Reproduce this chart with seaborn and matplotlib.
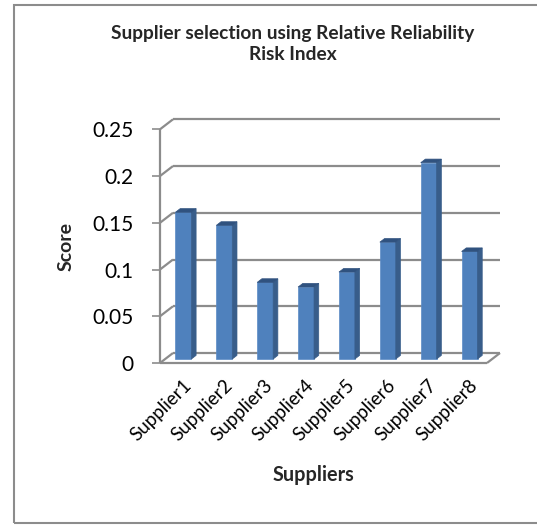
import matplotlib
matplotlib.use("Agg")
import matplotlib.pyplot as plt
import matplotlib.transforms as mtransforms
from matplotlib.patches import Polygon, Rectangle
import pandas as pd
import seaborn as sns

# Chart data
suppliers = ["Supplier1", "Supplier2", "Supplier3", "Supplier4",
             "Supplier5", "Supplier6", "Supplier7", "Supplier8"]
scores = [0.157, 0.143, 0.082, 0.077, 0.093, 0.125, 0.210, 0.115]
y_ticks = [0, 0.05, 0.1, 0.15, 0.2, 0.25]
y_tick_labels = ["0", "0.05", "0.1", "0.15", "0.2", "0.25"]
chart_title = "Supplier selection using Relative Reliability\nRisk Index"
x_title = "Suppliers"
y_title = "Score"

FRONT = "#4F81BD"
SIDE = "#385D8A"
TOP = "#30527F"
GRID = "#8C8C8C"

sns.set_theme(style="white")
plt.rcParams["font.family"] = ["Lato", "DejaVu Sans"]

DPI = 100
W, H = 537, 525
fig = plt.figure(figsize=(W / DPI, H / DPI), dpi=DPI)

# front plane of the pseudo-3D plot area (pixels)
left_px, right_px, bottom_px, top_px = 160, 487, 363, 129.3
ax = fig.add_axes([left_px / W, 1 - bottom_px / H,
                   (right_px - left_px) / W, (bottom_px - top_px) / H])

df = pd.DataFrame({"Supplier": suppliers, "Score": scores})
sns.barplot(data=df, x="Supplier", y="Score", color=FRONT, width=0.39,
            saturation=1, ax=ax, zorder=3)

ymax = y_ticks[-1]
ax.set_xlim(-0.5, len(suppliers) - 0.5)
ax.set_ylim(0, ymax)
ax.set_autoscale_on(False)

px_x = (right_px - left_px) / len(suppliers)
px_y = (bottom_px - top_px) / ymax

def to_data(dx_px, dy_px):
    return dx_px / px_x, dy_px / px_y

# wall depth and bar placement inside it
WX, WY = to_data(13, 10)
BX, BY = to_data(3, 4)
DX, DY = to_data(4.7, 3.6)

x0, x1 = -0.5, len(suppliers) - 0.5
line_kw = dict(color=GRID, lw=1.6, clip_on=False, zorder=1,
               solid_capstyle="butt")
for t in y_ticks:
    ax.plot([x0 + WX, x1 + WX], [t + WY, t + WY], **line_kw)
    ax.plot([x0, x0 + WX], [t, t + WY], **line_kw)
# floor
ax.plot([x0, x1], [0, 0], **line_kw)
ax.plot([x1, x1 + WX], [0, WY], **line_kw)
ax.plot([x0, x0], [0, ymax], **line_kw)

# give each bar a side and a top face
for p in list(ax.patches):
    bx = p.get_x() + BX
    bw = p.get_width()
    bh = p.get_height()
    p.set_x(bx)
    p.set_y(BY)
    p.set_edgecolor("#5B8BC6")
    p.set_linewidth(0.5)
    p.set_clip_on(False)
    side = Polygon([(bx + bw, BY), (bx + bw, BY + bh),
                    (bx + bw + DX, BY + bh + DY), (bx + bw + DX, BY + DY)],
                   closed=True, facecolor=SIDE, edgecolor=SIDE, lw=0.5,
                   clip_on=False, zorder=3)
    top = Polygon([(bx, BY + bh), (bx + bw, BY + bh),
                   (bx + bw + DX, BY + bh + DY), (bx + DX, BY + bh + DY)],
                  closed=True, facecolor=TOP, edgecolor=TOP, lw=0.5,
                  clip_on=False, zorder=3)
    ax.add_patch(side)
    ax.add_patch(top)

for s in ax.spines.values():
    s.set_visible(False)

ax.set_yticks(y_ticks)
ax.set_yticklabels(y_tick_labels)
ax.tick_params(axis="y", left=True, length=5.8, width=1.2, color=GRID,
               pad=13.5, labelsize=15, labelcolor="black")
ax.tick_params(axis="x", bottom=False, length=0, pad=10, labelsize=13.5,
               labelcolor="black")
ax.set_xticks(range(len(suppliers)))
ax.set_xticklabels(suppliers, rotation=45, ha="right",
                   rotation_mode="default")
shift = mtransforms.ScaledTranslation(14 / DPI, 0, fig.dpi_scale_trans)
for lab in ax.get_xticklabels():
    lab.set_transform(lab.get_transform() + shift)

ax.set_xlabel("")
ax.set_ylabel("")
fig.text(313 / W, 1 - 475 / H, x_title, ha="center", va="center",
         fontsize=14.3, fontweight="bold")
fig.text(66 / W, 1 - 246 / H, y_title, ha="center", va="center",
         rotation=90, fontsize=14, fontweight="bold")
fig.text(293 / W, 1 - 44 / H, chart_title, ha="center", va="center",
         fontsize=13.8, fontweight="bold", linespacing=1.3)

# chart area border
fig.add_artist(Rectangle((14 / W, 2 / H), 1.2, (523 - 5) / H,
                         transform=fig.transFigure, fill=False,
                         edgecolor="#8C8C8C", lw=1.5))

fig.savefig("out.png", dpi=DPI)
